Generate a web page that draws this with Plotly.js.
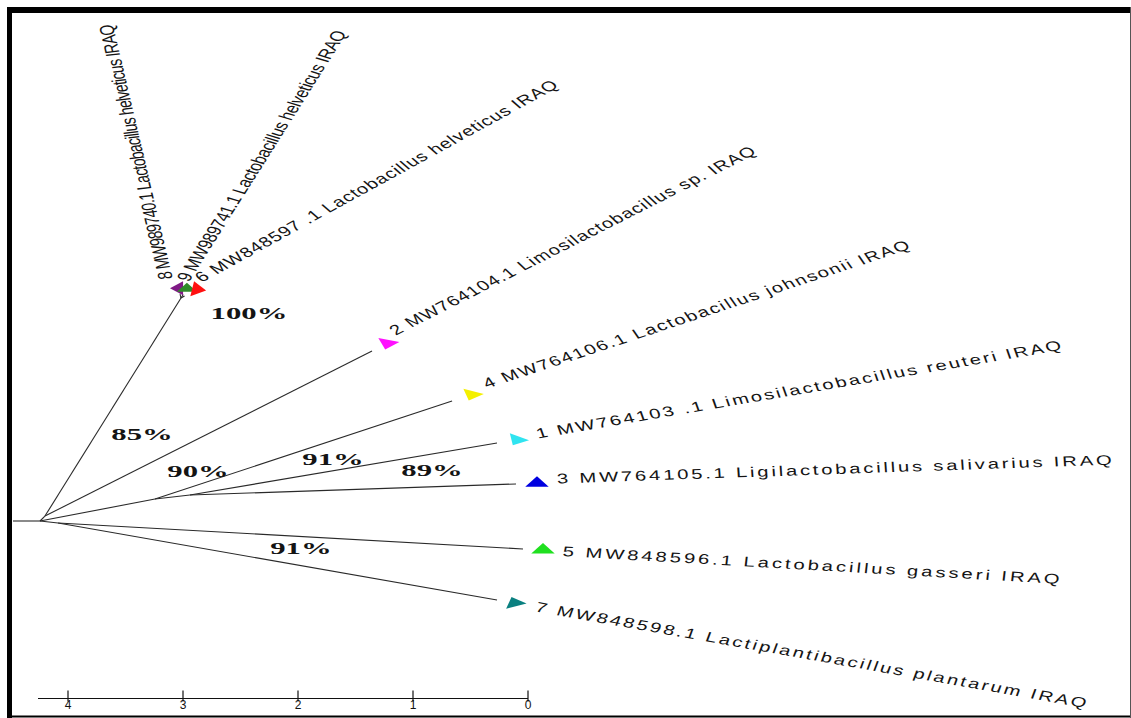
<!DOCTYPE html>
<html>
<head>
<meta charset="utf-8">
<script src="https://cdn.plot.ly/plotly-3.0.1.min.js"></script>
<style>
html,body{margin:0;padding:0;background:#fff;}
#chart{width:1131px;height:718px;}
</style>
</head>
<body>
<div id="chart"></div>
<script>
// ---------------- DATA (tree laid out in branch-length units of the scale bar) ----------------
const nodeIds  = ['stub','root','U','C','N1','N2','L','t8','t9','t6','t2','t4','t1','t3','t5','t7'];
const nodeX    = [-0.235, 0, 0.043, 1.226, 1.000, 1.304, 0.157, 1.218, 1.245, 1.257, 2.887, 3.583, 3.974, 4.139, 4.200, 3.974];
const nodeY    = [0, 0, 0.043, 1.939, 0.191, 0.226, -0.017, 1.973, 1.969, 1.956, 1.478, 1.043, 0.678, 0.322, -0.243, -0.687];
const parentOf = ['', 'stub', 'root', 'U', 'root', 'N1', 'root', 'C', 'C', 'C', 'U', 'N1', 'N2', 'N2', 'L', 'L'];

const tipIds    = ['t8','t9','t6','t2','t4','t1','t3','t5','t7'];
const tipLabels = [
  '8 MW989740.1 Lactobacillus helveticus IRAQ',
  '9 MW989741.1 Lactobacillus helveticus IRAQ',
  '6 MW848597 .1 Lactobacillus helveticus IRAQ',
  '2 MW764104.1 Limosilactobacillus sp. IRAQ',
  '4 MW764106.1 Lactobacillus johnsonii IRAQ',
  '1 MW764103 .1 Limosilactobacillus reuteri IRAQ',
  '3 MW764105.1 Ligilactobacillus salivarius IRAQ',
  '5 MW848596.1 Lactobacillus gasseri IRAQ',
  '7 MW848598.1 Lactiplantibacillus plantarum IRAQ'
];

const bootNodes  = ['C', 'U', 'N1', 'N2', 'N2', 'L'];
const bootValues = ['100%', '85%', '90%', '91%', '89%', '91%'];

const scaleTicks  = [4, 3, 2, 1, 0];
const scaleLabels = ['4', '3', '2', '1', '0'];

// ---------------- STYLE / LAYOUT ----------------
const W = 1131, H = 718, PXU = 115;          // pixels per branch-length unit
const ROOT_PX = 40, ROOT_PY = 521;
const S = 1.45;                               // horizontal stretch of glyphs and symbols
const tipStyle = {
  t8: {sym:'triangle-left',  col:'#801a86', size:12, ang:0,  mGap:6,    lGap:11, lift:11,  len:262},
  t9: {sym:'triangle-up',    col:'#2f8a2a', size:12, ang:0,  mGap:7,    lGap:4.5,lift:8.6, len:295},
  t6: {sym:'triangle-right', col:'#ff1010', size:13, ang:10, mGap:14,   lGap:4.7,lift:9.4, len:408},
  t2: {sym:'triangle-down',  col:'#ff10ff', size:13, ang:15, mGap:17.5, lGap:9,  lift:8,   len:405},
  t4: {sym:'triangle-down',  col:'#f4f000', size:13, ang:20, mGap:21,   lGap:14, lift:6.5, len:447},
  t1: {sym:'triangle-down',  col:'#30e4f0', size:13, ang:28, mGap:20.5, lGap:20, lift:3,   len:532},
  t3: {sym:'triangle-up',    col:'#0000e0', size:14, ang:0,  mGap:21,   lGap:20, lift:4,   len:555},
  t5: {sym:'triangle-up',    col:'#20e020', size:14, ang:0,  mGap:20,   lGap:19, lift:0,   len:498},
  t7: {sym:'triangle-up',    col:'#0a8080', size:13, ang:-20,mGap:18,   lGap:22, lift:0,   len:559}
};
const bootShift = [[68,-15],[97,82],[43,28],[143,36],[242,25],[243,-26]];
const BOOT_STRETCH = 1.92;
const LABEL_FONT = 'Liberation Sans, Arial, sans-serif';
const LABEL_SIZE = 14;

// ---------------- BUILD ----------------
const idx = id => nodeIds.indexOf(id);
const ex = [], ey = [];
nodeIds.forEach((id, i) => {
  const p = parentOf[i];
  if (!p) return;
  const j = idx(p);
  ex.push(nodeX[j], nodeX[i], null);
  ey.push(nodeY[j], nodeY[i], null);
});

const canvas = document.createElement('canvas');
const ctx = canvas.getContext('2d');
ctx.font = LABEL_SIZE + 'px "Liberation Sans", Arial, sans-serif';

const mx = [], my = [], msym = [], mcol = [], msize = [], mang = [];
const annotations = [];
const annMeta = [];
tipIds.forEach((id, k) => {
  const i = idx(id), j = idx(parentOf[i]);
  let dx = nodeX[i] - nodeX[j], dy = nodeY[i] - nodeY[j];
  const d = Math.hypot(dx, dy); dx /= d; dy /= d;
  const st = tipStyle[id];
  const px = nodeX[i] + dx * st.mGap / PXU, py = nodeY[i] + dy * st.mGap / PXU;
  mx.push(px); my.push(py); msym.push(st.sym); mcol.push(st.col); msize.push(st.size); mang.push(st.ang);
  const txt = tipLabels[k];
  const f = Math.hypot(dx / S, dy);
  const L0 = st.len * f;
  const ang0 = Math.atan2(dy, dx / S) * 180 / Math.PI;
  const w0 = ctx.measureText(txt).width;
  const sp = (L0 - w0) / (txt.length - 1);
  const along = st.lGap + st.len / 2 + (sp / 2) / f;
  const ux = -dy, uy = dx;
  const cx = px + (dx * along + ux * st.lift) / PXU;
  const cy = py + (dy * along + uy * st.lift) / PXU;
  annotations.push({
    x: cx, y: cy, xref: 'x', yref: 'y', text: txt, showarrow: false,
    textangle: -ang0, xanchor: 'center', yanchor: 'middle',
    font: {family: LABEL_FONT, size: LABEL_SIZE, color: '#141414'}
  });
  annMeta.push({type: 'tip', sp: sp, cpx: ROOT_PX + cx * PXU, stretch: S});
});

bootValues.forEach((v, k) => {
  const i = idx(bootNodes[k]);
  annotations.push({
    x: nodeX[i], y: nodeY[i], xref: 'x', yref: 'y', text: v, showarrow: false,
    xanchor: 'center', yanchor: 'middle', xshift: bootShift[k][0], yshift: bootShift[k][1],
    font: {family: 'Liberation Serif, Times New Roman, serif', size: 16, color: '#141414', weight: 'bold'}
  });
  annMeta.push({type: 'boot', cpx: ROOT_PX + nodeX[i] * PXU + bootShift[k][0], stretch: BOOT_STRETCH});
});

const traces = [
  {type: 'scatter', mode: 'lines', x: ex, y: ey, line: {color: '#2a2a2a', width: 1.1},
   hoverinfo: 'skip', showlegend: false},
  {type: 'scatter', mode: 'markers', x: mx, y: my,
   marker: {symbol: msym, color: mcol, size: msize, angle: mang, opacity: 1, line: {width: 0}},
   hoverinfo: 'skip', showlegend: false},
  // scale-bar tick marks, placed on the scale axis
  {type: 'scatter', mode: 'markers', x: scaleTicks, y: scaleTicks.map(() => 0.05), xaxis: 'x2', yaxis: 'y2',
   marker: {symbol: 'line-ns', size: 8, color: '#111', line: {color: '#111', width: 1.2}},
   hoverinfo: 'skip', showlegend: false, cliponaxis: false}
];

const barLeftPx = 38, barRightPx = 528, barPy = 698;
const layout = {
  width: W, height: H,
  margin: {l: 0, r: 0, t: 0, b: 0, pad: 0},
  paper_bgcolor: '#ffffff', plot_bgcolor: 'rgba(0,0,0,0)',
  showlegend: false,
  xaxis: {range: [-ROOT_PX / PXU, (W - ROOT_PX) / PXU], visible: false, fixedrange: true},
  yaxis: {range: [-(H - ROOT_PY) / PXU, ROOT_PY / PXU], visible: false, fixedrange: true},
  xaxis2: {
    domain: [barLeftPx / W, barRightPx / W],
    range: [(barRightPx - barLeftPx) / PXU, 0],
    anchor: 'y2',
    showline: true, linecolor: '#111', linewidth: 1,
    ticks: '', ticklabelstandoff: -4,
    tickvals: scaleTicks, ticktext: scaleLabels,
    tickfont: {family: LABEL_FONT, size: 12, color: '#111'},
    showgrid: false, zeroline: false, fixedrange: true
  },
  yaxis2: {
    domain: [(H - barPy) / H, (H - barPy + 40) / H], range: [0, 1],
    anchor: 'x2', visible: false, fixedrange: true
  },
  annotations: annotations,
  shapes: [
    {type: 'line', xref: 'paper', yref: 'paper', x0: 7 / W, x1: 1, y0: 1 - 10 / H, y1: 1 - 10 / H, line: {color: '#000', width: 6}},
    {type: 'line', xref: 'paper', yref: 'paper', x0: 9.5 / W, x1: 9.5 / W, y0: 0, y1: 1 - 7 / H, line: {color: '#000', width: 5}},
    {type: 'line', xref: 'paper', yref: 'paper', x0: 7 / W, x1: 1, y0: 1.5 / H, y1: 1.5 / H, line: {color: '#000', width: 2}},
    {type: 'line', xref: 'paper', yref: 'paper', x0: 1 - 0.5 / W, x1: 1 - 0.5 / W, y0: 0, y1: 1 - 7 / H, line: {color: '#555', width: 1}}
  ]
};

Plotly.newPlot('chart', traces, layout, {staticPlot: true, displayModeBar: false}).then(gd => {
  gd.querySelectorAll('.annotation').forEach(g => {
    const k = +g.getAttribute('data-index');
    const meta = annMeta[k];
    if (!meta) return;
    if (meta.type === 'tip') {
      const t = g.querySelector('text.annotation-text');
      if (t) t.style.letterSpacing = meta.sp.toFixed(2) + 'px';
    }
    g.setAttribute('transform', 'translate(' + meta.cpx + ',0) scale(' + meta.stretch + ',1) translate(' + (-meta.cpx) + ',0)');
  });
  gd.querySelectorAll('.scatterlayer .trace:nth-child(2) path.point').forEach(p => {
    const tr = p.getAttribute('transform') || '';
    const m = tr.match(/translate\(([^)]*)\)/);
    if (!m) return;
    const rest = tr.replace(m[0], '');
    p.setAttribute('transform', m[0] + ' scale(' + S + ',1)' + rest);
  });
});
</script>
</body>
</html>
